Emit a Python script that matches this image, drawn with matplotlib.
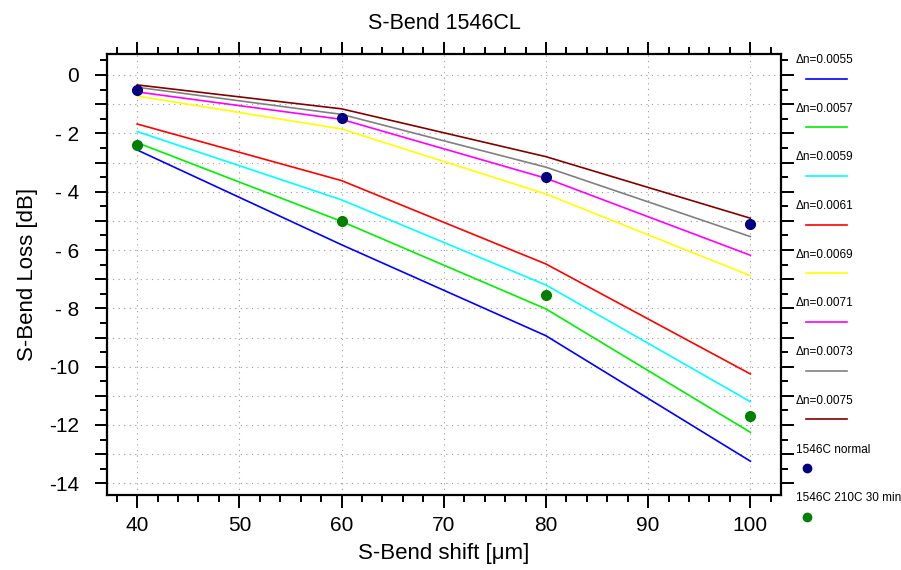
import numpy as np
import matplotlib
matplotlib.use("Agg")
import matplotlib.pyplot as plt
from matplotlib.ticker import MultipleLocator, FuncFormatter

plt.rcParams['font.family'] = ['Liberation Sans', 'DejaVu Sans']
plt.rcParams['axes.unicode_minus'] = False

# S-Bend shift in um
shift = [40, 60, 80, 100]

# simulated loss curves [dB], one per index contrast
dn_labels = ['0.0055', '0.0057', '0.0059', '0.0061', '0.0069', '0.0071', '0.0073', '0.0075']
dn_colors = ['#0000ff', '#00ee00', '#00ffff', '#ff0000', '#ffff00', '#ff00ff', '#808080', '#800000']
loss_0055 = [-2.57, -5.82, -8.94, -13.24]
loss_0057 = [-2.32, -5.02, -8.02, -12.25]
loss_0059 = [-1.94, -4.28, -7.20, -11.20]
loss_0061 = [-1.68, -3.62, -6.48, -10.25]
loss_0069 = [-0.72, -1.85, -4.08, -6.88]
loss_0071 = [-0.58, -1.52, -3.54, -6.18]
loss_0073 = [-0.42, -1.35, -3.16, -5.54]
loss_0075 = [-0.34, -1.16, -2.80, -4.91]
sim = [loss_0055, loss_0057, loss_0059, loss_0061, loss_0069, loss_0071, loss_0073, loss_0075]

# measurements
meas_labels = ['1546C normal', '1546C 210C 30 min']
meas_colors = ['#000080', '#008000']
meas_normal = [-0.52, -1.48, -3.48, -5.12]
meas_210c = [-2.41, -4.99, -7.55, -11.68]
meas = [meas_normal, meas_210c]


def ylab(v, p):
    n = int(round(v))
    if n % 2:
        return ''
    if n < 0:
        return '-' + (' ' if n > -10 else '') + str(-n)
    return str(n)


fig = plt.figure(figsize=(9.01, 5.70), dpi=100)
ax = fig.add_axes([107/901, 75/570, 674/901, 441/570])

for vals, col in zip(sim, dn_colors):
    ax.plot(shift, vals, color=col, lw=1.2)
for vals, col in zip(meas, meas_colors):
    ax.plot(shift, vals, 'o', color=col, ms=7, mec=col, ls='none')

ax.set_xlim(37.05, 103.0)
ax.set_ylim(-14.4, 0.72)
ax.xaxis.set_major_locator(MultipleLocator(10))
ax.xaxis.set_minor_locator(MultipleLocator(2))
ax.yaxis.set_major_locator(MultipleLocator(1))
ax.yaxis.set_minor_locator(MultipleLocator(0.5))
ax.yaxis.set_major_formatter(FuncFormatter(ylab))

ax.tick_params(which='both', direction='out', top=True, right=True, width=1.4, labelsize=15)
ax.tick_params(which='major', length=9)
ax.tick_params(which='minor', length=5)
ax.tick_params(axis='x', which='major', pad=6)
ax.tick_params(axis='y', which='major', pad=11)
for s in ax.spines.values():
    s.set_linewidth(1.6)
ax.grid(True, which='major', ls=(0, (1, 4)), color='#999999', lw=0.8)

ax.set_xlabel('S-Bend shift [μm]', fontsize=16, labelpad=6)
ax.set_ylabel('S-Bend Loss [dB]', fontsize=16, labelpad=8)
ax.set_title('S-Bend 1546CL', fontsize=15.5, pad=18)

# legend drawn in a pixel-coordinate side panel
lax = fig.add_axes([787/901, 0, 114/901, 1])
lax.set_xlim(787, 901)
lax.set_ylim(570, 0)
lax.axis('off')
step = 48.7
for i, (lab, col) in enumerate(zip(dn_labels, dn_colors)):
    ty = 60 + i * step
    lax.text(796, ty, 'Δn=' + lab, fontsize=8.5, va='center', ha='left')
    lax.plot([806, 847], [ty + 18.5, ty + 18.5], color=col, lw=1.2)
for j, (lab, col) in enumerate(zip(meas_labels, meas_colors)):
    ty = 60 + (len(dn_labels) + j) * step
    lax.text(796, ty, lab, fontsize=8.5, va='center', ha='left')
    lax.plot([806.5], [ty + 18.5], 'o', color=col, ms=6)

fig.savefig('out.png', dpi=100)
